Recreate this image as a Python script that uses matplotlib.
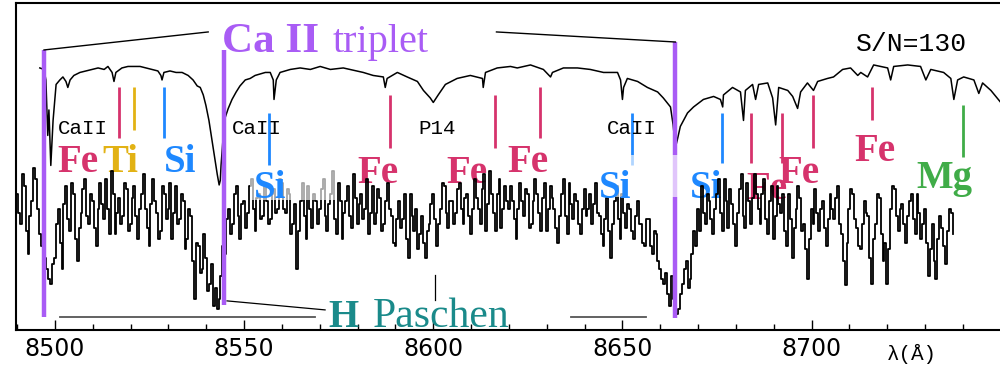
import matplotlib
matplotlib.use("Agg")
import matplotlib.pyplot as plt
from matplotlib.ticker import MultipleLocator
from matplotlib.patches import Rectangle
import numpy as np

# ---------------- data ----------------
# high S/N template spectrum (wavelength in Angstrom, normalised flux)
wave_hi = [8496.0, 8497.1, 8497.6, 8498.1, 8498.4, 8498.9, 8499.5, 8500.3, 8501.3, 8502.1, 8502.9, 8503.4, 8504.0, 8505.0, 8506.6, 8508.2, 8509.8,
           8511.4, 8513.0, 8514.0, 8515.1, 8515.6, 8516.1, 8517.7, 8519.3, 8520.9, 8522.5, 8524.1, 8525.7, 8527.2, 8528.0, 8528.3, 8528.8, 8530.4, 8532.0, 8533.6, 8535.2, 8536.5, 8537.6, 8538.4,
           8539.2, 8539.9, 8540.7, 8541.5, 8542.3, 8542.9, 8543.4, 8543.7, 8543.9, 8544.4, 8545.0, 8545.8, 8546.8, 8547.9, 8548.9,
           8550.3, 8551.6, 8552.9, 8554.2, 8555.6, 8556.9, 8557.7, 8557.9, 8558.5, 8559.5, 8562.2, 8564.8, 8567.5, 8570.1, 8572.8, 8576.2,
           8581.5, 8584.1, 8586.8, 8587.3, 8587.8, 8590.5, 8593.1, 8595.8, 8597.4, 8599.2, 8600.0, 8601.3, 8603.2, 8606.3, 8609.8,
           8613.0, 8613.2, 8613.8, 8616.9, 8620.4, 8622.2, 8625.7, 8629.1, 8631.0, 8631.5, 8634.4, 8638.1, 8641.5, 8645.0, 8648.7, 8649.5, 8650.0, 8650.3, 8651.3,
           8654.0, 8656.6, 8659.3, 8660.8, 8662.7, 8663.4, 8664.0, 8664.5, 8665.3, 8667.2, 8668.8, 8671.4, 8674.1, 8675.9, 8676.5, 8676.7,
           8679.1, 8681.2, 8682.0, 8682.5, 8684.4, 8685.2, 8686.0, 8688.4, 8689.7, 8690.5, 8691.3, 8693.7, 8695.0, 8696.3, 8697.1, 8698.9, 8700.5, 8701.6,
           8704.2, 8705.8, 8708.2, 8710.3, 8712.2, 8713.0, 8714.8, 8716.4, 8720.1, 8720.9, 8721.7, 8725.4, 8728.8, 8730.2, 8731.5, 8734.9, 8736.8, 8737.6, 8738.6, 8740.2, 8742.9, 8744.2, 8745.2, 8747.4, 8750.0]
flux_hi = [0.98, 0.97, 0.90, 0.53, 0.70, 0.33, 0.63, 0.87, 0.90, 0.92, 0.89, 0.85, 0.90, 0.93, 0.95, 0.96, 0.97,
           0.98, 0.97, 0.99, 0.95, 0.89, 0.95, 0.98, 0.99, 0.99, 0.99, 0.98, 0.97, 0.96, 0.93, 0.90, 0.95, 0.96, 0.95, 0.95, 0.93, 0.90, 0.86, 0.85,
           0.80, 0.73, 0.63, 0.50, 0.37, 0.27, 0.20, 0.23, 0.33, 0.50, 0.65, 0.71, 0.77, 0.82, 0.86,
           0.90, 0.91, 0.93, 0.94, 0.95, 0.95, 0.90, 0.77, 0.90, 0.95, 0.97, 0.98, 0.97, 0.99, 0.97, 0.98,
           0.95, 0.93, 0.92, 0.85, 0.91, 0.95, 0.92, 0.89, 0.83, 0.78, 0.75, 0.80, 0.87, 0.91, 0.93,
           0.91, 0.85, 0.95, 0.98, 0.99, 0.98, 1.00, 0.97, 0.92, 0.95, 0.98, 0.98, 0.97, 0.95, 0.95, 0.90, 0.77, 0.85, 0.91,
           0.89, 0.85, 0.82, 0.78, 0.72, 0.60, 0.45, 0.50, 0.59, 0.68, 0.72, 0.77, 0.79, 0.77, 0.72, 0.80,
           0.85, 0.82, 0.63, 0.83, 0.87, 0.77, 0.87, 0.88, 0.78, 0.60, 0.85, 0.83, 0.79, 0.71, 0.82, 0.88, 0.83, 0.89,
           0.91, 0.92, 0.97, 0.98, 0.93, 0.95, 0.92, 1.00, 0.98, 0.90, 0.99, 1.00, 0.99, 0.90, 0.97, 0.95, 0.91, 0.77, 0.90, 0.92, 0.90, 0.81, 0.88, 0.83, 0.75]

# low S/N spectrum, sampled every 0.5 Angstrom from 8490 Angstrom
lo_start = 8490.0
lo_step = 0.5
flux_lo = [1.05, 0.92, 0.85, 1.18, 1.10, 0.80, 0.65, 0.90, 1.00, 1.22, 1.15, 0.95, 0.78, 0.70, 0.90, 0.62, 0.55, 0.48, 0.45, 0.58,
           0.62, 0.85, 0.95, 0.72, 0.55, 0.98, 1.10, 0.88, 0.80, 1.12, 1.05, 0.75, 0.60, 0.82, 0.92, 1.08, 1.15, 0.90, 0.85, 1.05,
           1.00, 0.82, 0.70, 0.95, 1.12, 0.98, 0.88, 1.15, 0.95, 0.78, 1.20, 1.05, 0.78, 0.92, 1.02, 0.85, 0.90, 1.12, 1.08, 0.80,
           0.85, 1.02, 1.10, 0.90, 0.75, 0.95, 1.05, 1.18, 0.95, 0.82, 0.70, 0.98, 1.15, 1.00, 0.92, 0.75, 0.80, 1.10, 1.05, 0.88,
           0.95, 1.12, 0.75, 0.92, 1.10, 0.85, 0.88, 1.05, 1.00, 0.68, 0.75, 0.95, 0.90, 0.60, 0.35, 0.72, 0.70, 0.52, 0.55, 0.78,
           0.62, 0.40, 0.45, 0.58, 0.30, 0.42, 0.28, 0.35, 0.50, 0.70, 0.65, 0.88, 0.95, 0.78, 0.85, 1.05, 1.10, 0.90, 0.75, 0.98,
           1.00, 0.82, 0.92, 1.10, 1.15, 0.95, 0.80, 1.02, 1.05, 0.88, 0.90, 1.12, 1.00, 0.85, 0.88, 1.05, 1.08, 0.92, 0.95, 1.15,
           1.12, 0.95, 0.92, 1.08, 1.05, 0.78, 0.85, 0.98, 0.55, 0.80, 1.00, 1.12, 0.90, 0.75, 1.10, 0.95, 0.82, 1.05, 1.00, 0.85,
           0.95, 1.08, 1.15, 0.90, 0.80, 0.98, 1.05, 1.20, 0.88, 0.78, 1.12, 1.00, 0.75, 0.92, 1.00, 1.10, 0.90, 0.82, 1.18, 1.02,
           0.85, 0.98, 1.05, 0.88, 0.95, 1.15, 0.78, 0.92, 1.10, 0.85, 0.92, 1.08, 1.02, 0.80, 0.85, 1.00, 1.12, 0.95, 0.90, 0.72,
           0.70, 0.88, 1.00, 0.82, 0.88, 1.05, 0.75, 0.62, 1.05, 0.90, 0.80, 0.95, 0.68, 0.78, 0.90, 0.72, 0.62, 0.80, 0.85, 0.98,
           1.05, 0.88, 0.70, 0.85, 0.95, 1.12, 1.10, 0.92, 0.82, 1.00, 1.00, 0.85, 0.92, 1.08, 1.12, 0.95, 0.85, 1.02, 1.05, 0.90,
           0.78, 0.95, 1.15, 1.02, 0.95, 0.85, 1.08, 1.18, 0.80, 0.98, 1.20, 1.05, 0.92, 0.80, 1.05, 1.15, 0.82, 0.95, 1.10, 1.00,
           0.95, 1.10, 1.00, 0.88, 0.75, 0.95, 1.12, 1.00, 0.90, 1.08, 1.05, 0.82, 0.85, 1.00, 1.15, 1.05, 0.92, 0.80, 1.02, 1.12,
           0.80, 0.95, 1.10, 1.02, 0.95, 0.82, 0.72, 0.90, 1.05, 1.15, 0.90, 0.78, 1.12, 0.98, 0.88, 1.05, 1.00, 0.85, 0.78, 0.95,
           1.08, 0.90, 0.95, 1.05, 0.85, 0.98, 1.12, 0.92, 0.90, 0.78, 0.70, 0.88, 1.02, 0.80, 0.62, 0.85, 1.00, 1.10, 0.88, 0.75,
           1.05, 0.92, 0.82, 0.98, 0.95, 0.80, 0.75, 0.90, 1.00, 0.85, 0.85, 0.72, 0.70, 0.88, 0.88, 0.70, 0.65, 0.80, 0.78, 0.60,
           0.55, 0.48, 0.45, 0.52, 0.38, 0.30, 0.50, 0.35, 0.30, 0.25, 0.28, 0.38, 0.45, 0.55, 0.60, 0.42, 0.48, 0.65, 0.80, 0.70,
           0.95, 0.80, 1.10, 0.92, 0.85, 1.05, 1.00, 0.88, 0.78, 0.95, 1.05, 1.15, 0.92, 0.80, 1.15, 1.00, 0.82, 1.08, 0.98, 0.85,
           0.70, 0.92, 1.08, 1.18, 0.90, 0.82, 1.12, 1.00, 0.85, 1.02, 1.18, 1.05, 0.95, 0.85, 1.05, 1.15, 0.88, 0.78, 1.00, 1.10,
           0.75, 0.90, 1.10, 0.98, 0.92, 1.05, 0.80, 0.70, 1.05, 0.88, 0.62, 0.82, 0.95, 1.10, 1.02, 0.80, 0.85, 0.68, 0.48, 0.75,
           0.95, 0.85, 1.08, 0.92, 0.80, 0.95, 1.00, 0.82, 0.70, 0.88, 1.05, 0.95, 0.88, 1.02, 1.10, 0.85, 0.78, 0.60, 0.44, 0.72,
           0.95, 1.08, 1.05, 0.88, 0.82, 0.70, 0.68, 0.85, 1.00, 0.92, 0.90, 0.62, 0.45, 0.75, 0.85, 1.05, 1.02, 0.78, 0.60, 0.72,
           0.45, 0.68, 0.95, 1.10, 1.08, 0.90, 0.80, 0.95, 0.98, 0.85, 0.72, 0.90, 1.00, 1.05, 0.88, 0.78, 1.05, 0.92, 0.75, 0.85,
           0.95, 0.72, 0.50, 0.68, 0.85, 0.60, 0.48, 0.75, 0.90, 0.82, 0.70, 0.58, 0.80, 0.95, 0.92, 0.78]
lo_offset = 0.91

# Ca II triplet markers (drawn positions) and their vertical extent
ca_wave = [8497.1, 8544.7, 8664.0]
ca_top = [1.10, 1.10, 1.153]
ca_bottom = [-0.68, -0.60, -0.687]

# element identification ticks
elem_wave = [8516.9, 8520.9, 8528.8, 8556.6, 8588.6, 8616.4, 8628.3, 8652.4, 8676.2, 8684.1, 8692.1, 8700.3, 8715.9, 8739.9]
elem_kind = ["Fe", "Ti", "Si", "Si", "Fe", "Fe", "Fe", "Si", "Si", "Fe", "Fe", "Fe", "Fe", "Mg"]
elem_top = [0.853, 0.853, 0.853, 0.68, 0.80, 0.80, 0.853, 0.68, 0.68, 0.68, 0.68, 0.80, 0.853, 0.733]
elem_bottom = [0.513, 0.567, 0.513, 0.333, 0.447, 0.447, 0.513, 0.333, 0.347, 0.347, 0.347, 0.447, 0.633, 0.387]

# element labels (centre wavelength, baseline flux)
label_text = ["Fe", "Ti", "Si", "Si", "Fe", "Fe", "Fe", "Si", "Si", "Fe", "Fe", "Fe", "Mg"]
label_wave = [8506.1, 8517.2, 8533.1, 8556.9, 8585.4, 8609.0, 8624.9, 8648.1, 8672.0, 8688.1, 8696.6, 8716.7, 8735.2]
label_flux = [0.287, 0.287, 0.287, 0.113, 0.213, 0.213, 0.287, 0.113, 0.113, 0.107, 0.213, 0.36, 0.18]

# small line identifications
id_text = ["CaII", "CaII", "P14", "CaII"]
id_wave = [8507.4, 8553.4, 8601.1, 8652.4]

# Paschen marker segments
pas_seg_start = [8501.3, 8636.5]
pas_seg_end = [8568.8, 8656.1]
p14_wave = 8600.5

colors = {"Fe": "#d6336c", "Ti": "#e2b214", "Si": "#1e88ff", "Mg": "#40ac48"}
purple = "#a95cf5"
teal = "#1a8a8a"

# ---------------- figure ----------------
fig = plt.figure(figsize=(10, 3.67), dpi=100)
ax = fig.add_axes([0.016, 1 - 330 / 367, 0.984, 327 / 367])
ax.set_xlim(8489.7, 8749.8)
ax.set_ylim(-0.767, 1.413)

serif = "Liberation Serif"
mono = "Liberation Mono"

# spectra
ax.plot(wave_hi, flux_hi, color="black", lw=1.1, zorder=3)
wave_lo = lo_start + lo_step * np.arange(len(flux_lo))
ax.step(wave_lo, np.array(flux_lo) - lo_offset, where="mid", color="black", lw=1.3, zorder=3)

# element labels (behind spectrum)
boxed = {3, 7}
for i, (t, w, f) in enumerate(zip(label_text, label_wave, label_flux)):
    ax.text(w, f, t, color=colors[t], fontsize=28, fontweight="bold", family=serif,
            ha="center", va="baseline", zorder=6 if i in boxed else 2)

# element ticks
for w, k, t, b in zip(elem_wave, elem_kind, elem_top, elem_bottom):
    ax.plot([w, w], [b, t], color=colors[k], lw=2.0, zorder=4, solid_capstyle="butt")

# Ca II triplet lines
for w, t, b in zip(ca_wave, ca_top, ca_bottom):
    ax.plot([w, w], [b, t], color=purple, lw=3.2, zorder=4, solid_capstyle="butt")

# semi-transparent boxes behind two Si labels
ax.add_patch(Rectangle((8551.6, 0.10), 22.5, 0.213, facecolor="white", alpha=0.65, edgecolor="none", zorder=5))
ax.add_patch(Rectangle((8643.7, 0.12), 21.6, 0.28, facecolor="white", alpha=0.65, edgecolor="none", zorder=5))

# connectors to the Ca II triplet label
ax.plot([ca_wave[0], 8540.5], [ca_top[0], 1.22], color="black", lw=1.0, zorder=4)
ax.plot([8616.7, ca_wave[2]], [1.22, ca_top[2]], color="black", lw=1.0, zorder=4)
ax.text(8544.2, 1.087, "Ca II", color=purple, fontsize=31, fontweight="bold", family=serif,
        ha="left", va="baseline", zorder=6)
ax.text(8573.5, 1.087, "triplet", color=purple, fontsize=29, family=serif,
        ha="left", va="baseline", zorder=6)

# H Paschen
for s, e in zip(pas_seg_start, pas_seg_end):
    ax.plot([s, e], [-0.68, -0.68], color="#555555", lw=1.3, zorder=3)
ax.plot([p14_wave, p14_wave], [-0.567, -0.40], color="black", lw=0.9, zorder=3)
ax.plot([8545.5, 8571.4], [-0.573, -0.633], color="black", lw=0.9, zorder=4)
ax.text(8572.2, -0.747, "H", color=teal, fontsize=28, fontweight="bold", family=serif,
        ha="left", va="baseline", zorder=6)
ax.text(8583.9, -0.747, "Paschen", color=teal, fontsize=30, family=serif,
        ha="left", va="baseline", zorder=6)

# small identifications
for t, w in zip(id_text, id_wave):
    ax.text(w, 0.573, t, fontsize=15, family=mono, ha="center", va="center", zorder=6)
ax.text(8726.5, 1.14, "S/N=130", fontsize=19, family=mono, ha="center", va="center", zorder=6)

# axes styling
for side in ["top", "left", "bottom"]:
    ax.spines[side].set_linewidth(1.5)
ax.spines["right"].set_visible(False)
ax.xaxis.set_major_locator(MultipleLocator(50))
ax.xaxis.set_minor_locator(MultipleLocator(10))
ax.tick_params(axis="x", which="major", direction="in", length=7.5, width=1.0, labelsize=17, pad=5)
ax.tick_params(axis="x", which="minor", direction="in", length=4, width=1.0)
ax.set_yticks([])
for lab in ax.get_xticklabels():
    lab.set_family("DejaVu Sans")
fig.text(0.912, 1 - 354 / 367, "λ(Å)", fontsize=15, family=mono, ha="center", va="center")

fig.savefig("out.png", dpi=100)
